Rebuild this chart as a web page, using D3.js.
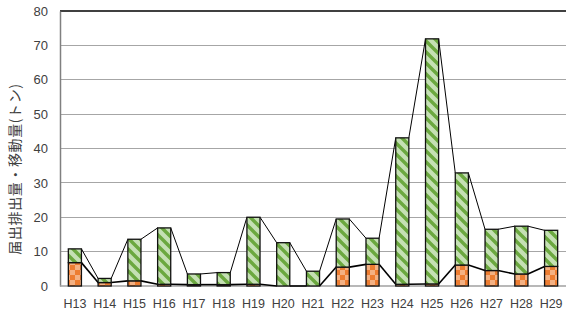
<!DOCTYPE html>
<html>
<head>
<meta charset="utf-8">
<script src="https://cdn.jsdelivr.net/npm/d3@7"></script>
<style>
  body { margin: 0; background: #fff; }
  svg { display: block; }
</style>
</head>
<body>
<div id="chart"></div>
<script>
// fiscal years
const years = ['H13','H14','H15','H16','H17','H18','H19','H20','H21','H22','H23','H24','H25','H26','H27','H28','H29'];
// orange (bottom) and green (top) segments, tonnes
const orangeVals = [6.8, 1.0, 1.5, 0.5, 0.4, 0.4, 0.5, 0, 0, 5.5, 6.3, 0.5, 0.6, 6.1, 4.5, 3.5, 5.7];
const greenVals  = [4.0, 1.2, 12.1, 16.4, 3.1, 3.5, 19.5, 12.6, 4.3, 14.0, 7.6, 42.6, 71.3, 26.8, 12.0, 13.9, 10.5];
const yTicks = [0, 10, 20, 30, 40, 50, 60, 70, 80];

const W = 566, H = 316;
const mLeft = 60, mRight = 566, mTop = 11, mBottom = 286;

const svg = d3.select('#chart').append('svg').attr('width', W).attr('height', H);

//patterns
const defs = svg.append('defs');
const chk = defs.append('pattern').attr('id', 'chk').attr('patternUnits', 'userSpaceOnUse')
  .attr('width', 10).attr('height', 10);
chk.append('rect').attr('width', 10).attr('height', 10).attr('fill', '#ED7D31');
chk.append('rect').attr('width', 5).attr('height', 5).attr('fill', '#F4B183');
chk.append('rect').attr('x', 5).attr('y', 5).attr('width', 5).attr('height', 5).attr('fill', '#F4B183');

const dg = defs.append('pattern').attr('id', 'dg').attr('patternUnits', 'userSpaceOnUse')
  .attr('width', 11).attr('height', 11);
dg.append('rect').attr('width', 11).attr('height', 11).attr('fill', '#C5E0B4');
dg.append('path').attr('d', 'M-2,-2 L13,13 M-2,9 L2,13 M9,-2 L13,2')
  .attr('stroke', '#6BA83F').attr('stroke-width', 3.4);

const x = d3.scaleBand().domain(years).range([mLeft, mRight]).paddingInner(0.56).paddingOuter(0.28);
const y = d3.scaleLinear().domain([0, 80]).range([mBottom, mTop]);

// gridlines
svg.append('g').selectAll('line').data(yTicks.filter(t => t > 0)).join('line')
  .attr('x1', mLeft).attr('x2', mRight)
  .attr('y1', d => y(d)).attr('y2', d => y(d))
  .attr('stroke', d => d === 80 ? '#404040' : '#a6a6a6')
  .attr('stroke-width', d => d === 80 ? 2 : 1)
  .attr('shape-rendering', 'crispEdges');

// y axis
const yAxis = svg.append('g').attr('transform', `translate(${mLeft},0)`)
  .call(d3.axisLeft(y).tickValues(yTicks).tickSize(0).tickPadding(12));
yAxis.select('.domain').attr('stroke', '#808080').attr('stroke-width', 1.5);
yAxis.selectAll('text').attr('fill', '#404040').style('font-size', '13px')
  .style('font-family', 'Liberation Sans, Arial, sans-serif');

// baseline
svg.append('line').attr('x1', mLeft).attr('x2', mRight).attr('y1', mBottom).attr('y2', mBottom)
  .attr('stroke', '#a0a0a0').attr('stroke-width', 1.5);

// x labels
svg.append('g').selectAll('text').data(years).join('text')
  .attr('x', d => x(d) + x.bandwidth() / 2).attr('y', 308)
  .attr('text-anchor', 'middle').attr('fill', '#404040')
  .style('font-size', '12.5px').style('font-family', 'Liberation Sans, Arial, sans-serif')
  .text(d => d);

// y title
svg.append('text')
  .attr('transform', 'translate(20,169) rotate(-90)')
  .attr('text-anchor', 'middle').attr('fill', '#404040')
  .style('font-size', '14px').style('letter-spacing', '0.6px')
  .style('font-family', 'Noto Sans CJK JP, sans-serif')
  .text('届出排出量・移動量(トン)');

const rows = years.map((yr, i) => ({ yr, o: orangeVals[i], g: greenVals[i], t: orangeVals[i] + greenVals[i] }));

// series lines (Excel style: right edge of a bar to left edge of the next)
const segs = (key) => d3.pairs(rows).map(([a, b]) => [
  [x(a.yr) + x.bandwidth(), y(a[key])], [x(b.yr), y(b[key])]
]);
svg.append('g').selectAll('line').data(segs('t')).join('line')
  .attr('x1', d => d[0][0]).attr('y1', d => d[0][1]).attr('x2', d => d[1][0]).attr('y2', d => d[1][1])
  .attr('stroke', '#000').attr('stroke-width', 1);
svg.append('g').selectAll('line').data(segs('o')).join('line')
  .attr('x1', d => d[0][0]).attr('y1', d => d[0][1]).attr('x2', d => d[1][0]).attr('y2', d => d[1][1])
  .attr('stroke', '#000').attr('stroke-width', 1.6);

// bars
const bars = svg.append('g');
bars.selectAll('.o').data(rows).join('rect').attr('class', 'o')
  .attr('x', d => x(d.yr)).attr('width', x.bandwidth())
  .attr('y', d => y(d.o)).attr('height', d => y(0) - y(d.o))
  .attr('fill', 'url(#chk)').attr('stroke', '#111').attr('stroke-width', 1.3);
bars.selectAll('.g').data(rows).join('rect').attr('class', 'g')
  .attr('x', d => x(d.yr)).attr('width', x.bandwidth())
  .attr('y', d => y(d.t)).attr('height', d => y(d.o) - y(d.t))
  .attr('fill', 'url(#dg)').attr('stroke', '#111').attr('stroke-width', 1.3);
</script>
</body>
</html>
